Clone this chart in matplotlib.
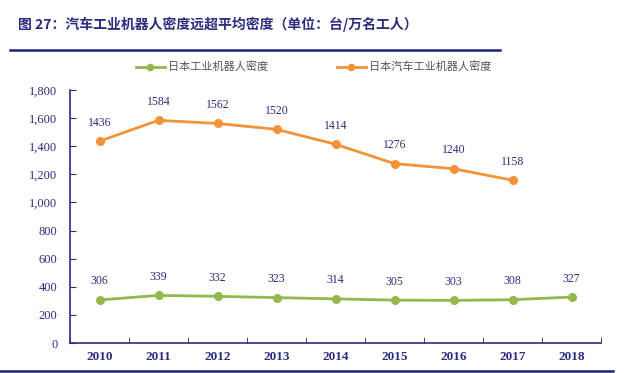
import matplotlib
matplotlib.use("Agg")
import matplotlib.pyplot as plt
from matplotlib.lines import Line2D

# === 数据 ===
years = ["2010", "2011", "2012", "2013", "2014", "2015", "2016", "2017", "2018"]
japan_all = [306, 339, 332, 323, 314, 305, 303, 308, 327]
japan_auto = [1436, 1584, 1562, 1520, 1414, 1276, 1240, 1158]
yticks = [0, 200, 400, 600, 800, 1000, 1200, 1400, 1600, 1800]

title = "图 27：汽车工业机器人密度远超平均密度（单位：台/万名工人）"
label_all = "日本工业机器人密度"
label_auto = "日本汽车工业机器人密度"

NAVY = "#2b2b80"
GREEN = "#93b84c"
ORANGE = "#f39338"
CJK = ["Noto Sans CJK SC", "DejaVu Sans"]
SERIF = ["Liberation Serif", "DejaVu Serif"]

fig = plt.figure(figsize=(6.4, 3.73), dpi=100)
ax = fig.add_axes([70 / 640, 1 - 343 / 373, 531 / 640, 253 / 373])

x_all = list(range(len(japan_all)))
x_auto = list(range(len(japan_auto)))
ax.plot(x_all, japan_all, color=GREEN, lw=2, marker="o", ms=5.5)
ax.plot(x_auto, japan_auto, color=ORANGE, lw=2, marker="o", ms=5.5)

# 数据标签
for xi, v in zip(x_all, japan_all):
    ax.annotate(str(v), (xi, v), xytext=(0, 9), textcoords="offset points",
                ha="center", va="bottom", fontsize=8.5, color=NAVY, family=SERIF)
for xi, v in zip(x_auto, japan_auto):
    ax.annotate(str(v), (xi, v), xytext=(0, 9), textcoords="offset points",
                ha="center", va="bottom", fontsize=8.5, color=NAVY, family=SERIF)

ax.set_xlim(-0.5, len(years) - 0.5)
ax.set_ylim(0, 1800)
ax.set_yticks(yticks)
ax.set_yticklabels([f"{t:,}" for t in yticks], family=SERIF, fontsize=9, color=NAVY)
ax.set_xticks(x_all)
ax.set_xticklabels(years, family=SERIF, fontsize=9.5, color=NAVY, fontweight="bold")
ax.set_xticks([i + 0.5 for i in range(-1, len(years))], minor=True)
ax.tick_params(axis="x", which="major", length=0, pad=6)
ax.tick_params(axis="x", which="minor", direction="in", length=4, color=NAVY)
ax.tick_params(axis="y", direction="in", length=4, color=NAVY, pad=9)
for s in ["top", "right"]:
    ax.spines[s].set_visible(False)
for s in ["left", "bottom"]:
    ax.spines[s].set_color(NAVY)
    ax.spines[s].set_linewidth(1.2)

# 图例
handles = [Line2D([], [], color=GREEN, lw=2, marker="o", ms=4.5),
           Line2D([], [], color=ORANGE, lw=2, marker="o", ms=4.5)]
leg = fig.legend(handles, [label_all, label_auto], loc="center",
                 bbox_to_anchor=(0.49, 1 - 67 / 373), ncol=2, frameon=False,
                 prop={"family": CJK, "size": 8}, columnspacing=6.2,
                 handlelength=2.6, handletextpad=0.3)
for t in leg.get_texts():
    t.set_color("#555555")

# 标题和分隔线
fig.text(18 / 640, 1 - 24 / 373, title, family=CJK, fontsize=10,
         fontweight="bold", color=NAVY, va="center", ha="left")
fig.add_artist(Line2D([10 / 640, 500 / 640], [1 - 50 / 373] * 2,
                      color="#1f1f7a", lw=1.8))
fig.add_artist(Line2D([0, 613 / 640], [1 - 371 / 373] * 2,
                      color="#1f1f7a", lw=1.8))

fig.savefig("out.png", dpi=100)
